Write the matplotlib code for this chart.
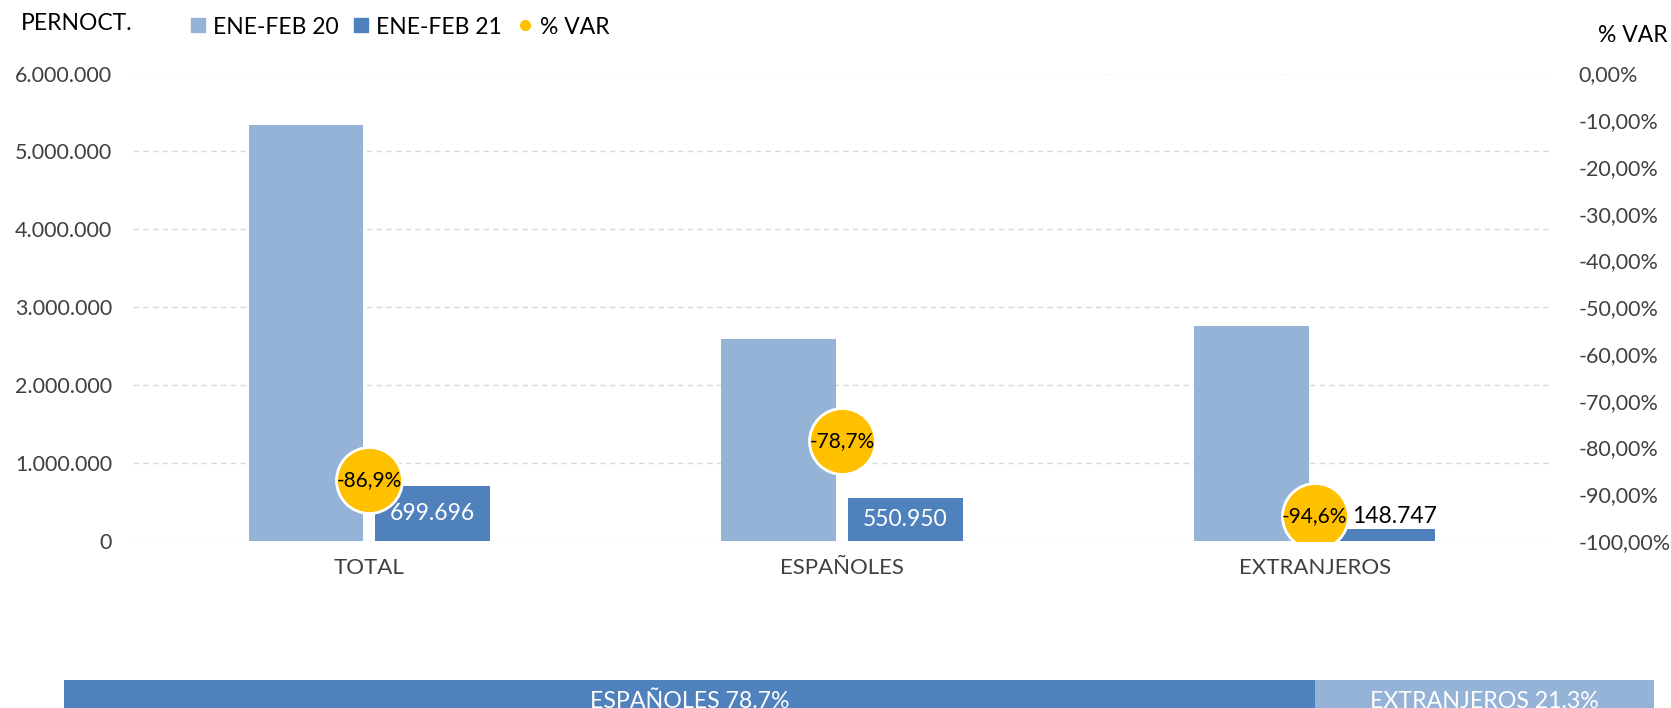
import matplotlib.pyplot as plt
import numpy as np
from matplotlib.lines import Line2D

plt.rcParams['font.family'] = ['Lato', 'DejaVu Sans']

categories = ['TOTAL', 'ESPAÑOLES', 'EXTRANJEROS']
ene_feb_20 = [5342000, 2587000, 2755000]
ene_feb_21 = [699696, 550950, 148747]
var_pct = [-86.9, -78.7, -94.6]
share_labels = ['ESPAÑOLES 78.7%', 'EXTRANJEROS 21.3%']
share_values = [78.7, 21.3]

c_light = '#95B3D7'
c_dark = '#4F81BD'
c_yellow = '#FFC000'
c_text = '#404040'

W, H = 1671, 708
fig = plt.figure(figsize=(W / 100, H / 100), dpi=100)
ax = fig.add_axes([133 / W, 1 - 541 / H, (1551 - 133) / W, (541 - 73.5) / H])

x = np.arange(len(categories))
bw = 0.242
off = 0.134
ax.bar(x - off, ene_feb_20, bw, color=c_light, zorder=2)
ax.bar(x + off, ene_feb_21, bw, color=c_dark, zorder=2)

def fmt_num(v):
    return f'{v:,.0f}'.replace(',', '.')

for i, v in enumerate(ene_feb_21):
    if v > 300000:
        ax.text(x[i] + off, v / 2, fmt_num(v), ha='center', va='center',
                color='white', fontsize=16.5, zorder=4)
    else:
        ax.text(x[i] + off + 0.035, v + 30000, fmt_num(v), ha='center', va='bottom',
                color='black', fontsize=16.5, zorder=4)

ax.set_xlim(-0.5, 2.5)
ax.set_ylim(0, 6000000)
ax.set_yticks(np.arange(0, 6000001, 1000000))
ax.set_yticklabels([fmt_num(v) for v in np.arange(0, 6000001, 1000000)])
ax.set_xticks(x)
ax.set_xticklabels(categories)
ax.grid(axis='y', color='#D9D9D9', linestyle=(0, (4, 3)), linewidth=1, zorder=0)
ax.tick_params(length=0, labelsize=15.5, labelcolor=c_text)
ax.tick_params(axis='x', pad=12, labelsize=16)
ax.tick_params(axis='y', pad=15)
for s in ax.spines.values():
    s.set_visible(False)

ax2 = ax.twinx()
ax2.set_ylim(-100, 0)
ax2.set_yticks(np.arange(-100, 1, 10))
ax2.set_yticklabels([f'{v:.2f}%'.replace('.', ',') if v != 0 else '0,00%'
                     for v in np.arange(-100, 1, 10)])
ax2.tick_params(length=0, labelsize=15.5, labelcolor=c_text, pad=20)
for s in ax2.spines.values():
    s.set_visible(False)
ax2.scatter(x, var_pct, s=47.5 ** 2, color=c_yellow, edgecolor='white',
            linewidth=2, zorder=5)
for i, v in enumerate(var_pct):
    ax2.text(x[i], v, f'{v:.1f}%'.replace('.', ','), ha='center', va='center',
             color='black', fontsize=15, zorder=6)

fig.text(21 / W, 1 - 23 / H, 'PERNOCT.', ha='left', va='center',
         fontsize=16.5, color='black')
fig.text(1668 / W, 1 - 35 / H, '% VAR', ha='right', va='center',
         fontsize=16.5, color='black')

handles = [
    Line2D([], [], marker='s', linestyle='none', markersize=10, color=c_light),
    Line2D([], [], marker='s', linestyle='none', markersize=10, color=c_dark),
    Line2D([], [], marker='o', linestyle='none', markersize=7, color=c_yellow),
]
fig.legend(handles, ['ENE-FEB 20', 'ENE-FEB 21', '% VAR'], ncol=3,
           loc='center left', bbox_to_anchor=(191 / W, 1 - 27 / H), frameon=False,
           fontsize=16.5, handlelength=0.6, handletextpad=0.35, columnspacing=0.7,
           borderaxespad=0, borderpad=0)

# bottom share bar (cut by the lower edge, as in the source)
axb = fig.add_axes([64 / W, 1 - 722 / H, (1654 - 64) / W, 42 / H])
left = 0
for lab, val, col in zip(share_labels, share_values, [c_dark, c_light]):
    axb.barh(0, val, left=left, height=1, color=col)
    axb.text(left + val / 2, 0, lab, ha='center', va='center', color='white',
             fontsize=16.7)
    left += val
axb.set_xlim(0, 100)
axb.set_ylim(-0.5, 0.5)
axb.axis('off')

fig.savefig('out.png', dpi=100)
